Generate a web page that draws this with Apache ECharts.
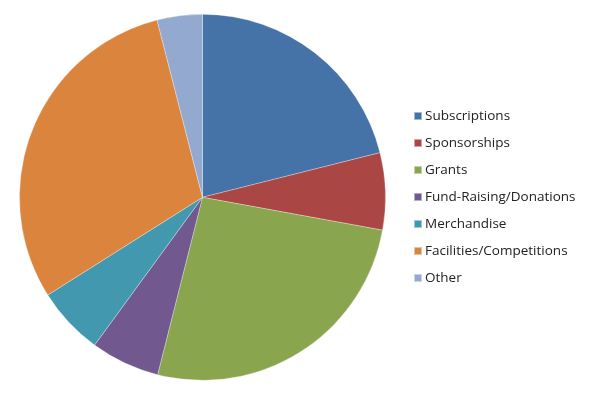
<!DOCTYPE html>
<html><head><meta charset="utf-8">
<script src="https://cdn.jsdelivr.net/npm/echarts@6/dist/echarts.min.js"></script>
<style>html,body{margin:0;padding:0;background:#fff}#c{width:591px;height:394px}</style>
</head><body><div id="c"></div>
<script>
const categories = ["Subscriptions","Sponsorships","Grants","Fund-Raising/Donations","Merchandise","Facilities/Competitions","Other"];
const values = [21.1, 6.8, 26.1, 6.1, 6.0, 30.0, 4.0];
const colors = ["#4572A7","#AA4643","#89A54E","#71588F","#4198AF","#DB843D","#93A9CF"];
const chart = echarts.init(document.getElementById('c'), null, {renderer:'canvas'});
chart.setOption({
  animation:false,
  color: colors,
  legend:{
    orient:'vertical', left:413, top:108, padding:0,
    icon:'rect', itemWidth:8, itemHeight:8, itemGap:11,
    textStyle:{fontFamily:'Open Sans', fontSize:13.5, color:'#222', lineHeight:16, padding:[0,0,0,-2]},
    data: categories
  },
  series:[{
    type:'pie', center:[202.5,197.3], radius:183, startAngle:90, clockwise:true,
    label:{show:false}, labelLine:{show:false},
    itemStyle:{borderColor:'rgba(255,255,255,0.5)', borderWidth:0.6},
    data: categories.map((n,i)=>({name:n, value:values[i]}))
  }]
});
</script></body></html>
